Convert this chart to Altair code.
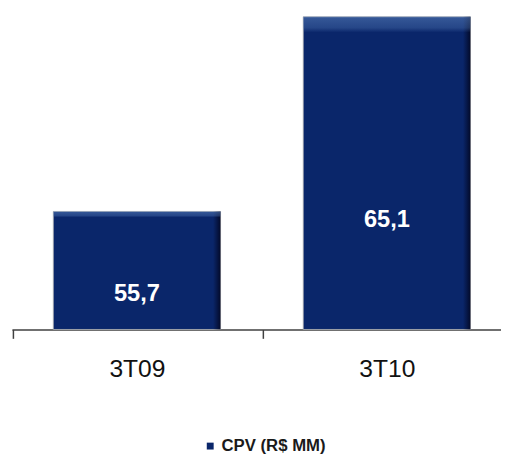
import altair as alt
import pandas as pd

categories = ["3T09", "3T10"]
values = [55.7, 65.1]
value_labels = ["55,7", "65,1"]
series_name = "CPV (R$ MM)"

df = pd.DataFrame({
    "periodo": categories,
    "valor": values,
    "rotulo": value_labels,
    "serie": [series_name] * len(categories),
})

NAVY = "#0a266a"
FONT = "Liberation Sans"

x_enc = alt.X(
    "periodo:N", sort=categories, title=None,
    scale=alt.Scale(range=[-2, 506], paddingInner=0.3307, paddingOuter=0.1654),
    axis=alt.Axis(
        labelAngle=0, labelFont=FONT, labelFontSize=25, labelColor="#111111",
        domainColor="#404040", domainWidth=1.5, tickColor="#404040", tickWidth=1.5,
        tickSize=9, tickOffset=-126, labelOffset=126, labelPadding=19, grid=False,
    ),
)
y_scale = alt.Scale(domain=[50, 65.35], zero=False, nice=False)

base = alt.Chart(df)

bars = base.mark_bar(stroke="#b8b8b8", strokeWidth=0.8).encode(
    x=x_enc,
    y=alt.Y("valor:Q", scale=y_scale, axis=None),
    y2=alt.datum(50),
    color=alt.Color(
        "serie:N", scale=alt.Scale(range=[NAVY]), title=None,
        legend=alt.Legend(
            orient="none", legendX=191, legendY=433, symbolType="square",
            symbolSize=49, symbolStrokeWidth=0, labelFont=FONT, labelFontSize=17,
            labelFontWeight="bold", labelColor="#1a1a1a", symbolOffset=0,
            labelOffset=3,
        ),
    ),
)

edge_right = base.mark_bar(
    fill=alt.LinearGradient(
        gradient="linear", x1=0, y1=0, x2=1, y2=0,
        stops=[
            alt.GradientStop(color="rgba(0,0,20,0)", offset=0),
            alt.GradientStop(color="rgba(0,0,20,0)", offset=0.955),
            alt.GradientStop(color="rgba(0,0,20,0.75)", offset=1),
        ],
    )
).encode(x=x_enc, y=alt.Y("valor:Q", scale=y_scale, axis=None), y2=alt.datum(50))

edge_top = base.mark_bar(
    fill=alt.LinearGradient(
        gradient="linear", x1=0, y1=0, x2=0, y2=1,
        stops=[
            alt.GradientStop(color="rgba(90,130,190,0.55)", offset=0),
            alt.GradientStop(color="rgba(90,130,190,0.35)", offset=0.035),
            alt.GradientStop(color="rgba(90,130,190,0)", offset=0.05),
            alt.GradientStop(color="rgba(90,130,190,0)", offset=1),
        ],
    )
).encode(x=x_enc, y=alt.Y("valor:Q", scale=y_scale, axis=None), y2=alt.datum(50))

labels = base.transform_calculate(
    pos="49.55 + 0.379 * (datum.valor - 50)"
).mark_text(
    font=FONT, fontSize=24, fontWeight="bold", color="white", baseline="middle"
).encode(
    x=x_enc,
    y=alt.Y("pos:Q", scale=y_scale, axis=None),
    text="rotulo:N",
)

chart = alt.layer(bars, edge_right, edge_top, labels).properties(
    width=495, height=323,
    autosize=alt.AutoSizeParams(type="none"),
    padding={"left": 6, "top": 0, "right": 0, "bottom": 133},
).configure_view(stroke=None)

chart.save("out.html", embed_options={"renderer": "svg", "actions": False})
